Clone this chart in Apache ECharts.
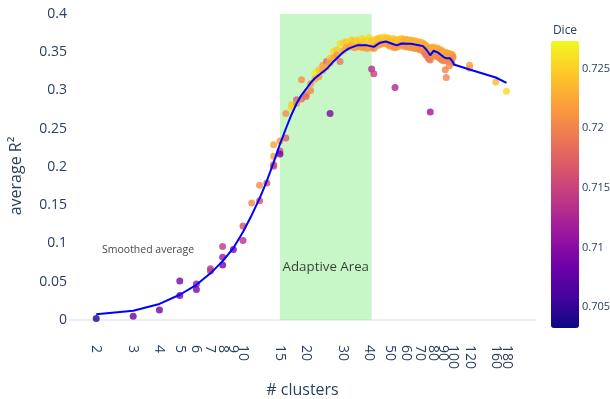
<!DOCTYPE html>
<html>
<head>
<meta charset="utf-8">
<script src="https://cdn.jsdelivr.net/npm/echarts@6/dist/echarts.min.js"></script>
<style>html,body{margin:0;padding:0;background:#fff}#c{width:610px;height:399px}</style>
</head>
<body>
<div id="c"></div>
<script>
// ---- data ----
const clusters = [
 2,3,4,5,5,6,6,7,7,8,8,8,9,10,10,11,12,12,13,14,14,14,14,15,15,15,16,16,17,17,18,18,19,19,20,20,21,21,22,22,
 26,41,42,53,78,
 23,23,24,24,25,25,26,26,27,27,28,28,29,29,30,30,31,31,32,32,33,33,34,34,35,35,36,36,37,37,38,38,39,39,40,40,
 41,41,42,42,43,43,44,44,45,45,46,46,47,47,48,48,49,49,50,50,51,51,52,52,53,53,54,54,55,55,56,56,57,57,58,58,
 59,59,60,60,61,61,62,62,63,63,64,64,65,65,66,66,67,67,68,68,69,69,70,70,71,71,72,72,73,73,74,74,75,75,76,76,
 77,77,78,78,79,79,80,80,81,81,82,82,83,83,84,84,85,85,86,86,87,87,88,88,89,89,90,90,91,91,92,92,93,93,94,94,
 95,95,96,96,97,97,98,98,99,99,100,100,
 120,120,160,180
];
const r2 = [
 0.002,0.005,0.013,0.051,0.032,0.047,0.040,0.067,0.064,0.096,0.082,0.072,0.092,0.123,0.104,0.153,0.176,0.156,0.179,0.229,0.214,0.203,0.201,0.234,0.221,0.217,0.270,0.238,0.281,0.278,0.288,0.283,0.314,0.289,0.295,0.292,0.300,0.309,0.323,0.315,
 0.270,0.328,0.322,0.304,0.272,
 0.327,0.318,0.333,0.326,0.338,0.331,0.342,0.336,0.351,0.343,0.353,0.346,0.361,0.338,0.362,0.352,0.364,0.356,0.363,0.357,0.366,0.359,0.364,0.356,0.366,0.357,0.365,0.358,0.368,0.356,0.364,0.357,0.366,0.355,0.369,0.357,
 0.365,0.356,0.364,0.355,0.367,0.358,0.368,0.359,0.369,0.360,0.367,0.361,0.370,0.362,0.368,0.361,0.369,0.360,0.367,0.358,0.366,0.359,0.368,0.357,0.365,0.356,0.366,0.357,0.367,0.358,0.366,0.359,0.368,0.360,0.367,0.358,
 0.366,0.359,0.367,0.357,0.366,0.358,0.365,0.357,0.366,0.356,0.365,0.357,0.364,0.356,0.365,0.355,0.363,0.356,0.364,0.355,0.362,0.354,0.363,0.353,0.361,0.354,0.362,0.352,0.360,0.350,0.359,0.347,0.358,0.346,0.356,0.343,
 0.354,0.341,0.352,0.340,0.355,0.345,0.357,0.347,0.356,0.346,0.355,0.347,0.356,0.345,0.354,0.344,0.355,0.346,0.353,0.343,0.352,0.342,0.353,0.341,0.351,0.340,0.350,0.339,0.349,0.340,0.350,0.327,0.348,0.317,0.349,0.339,
 0.348,0.338,0.347,0.332,0.348,0.340,0.346,0.339,0.347,0.336,0.345,0.343,
 0.333,0.329,0.311,0.299
];
const dice = [
 0.7035,0.708,0.7085,0.709,0.7085,0.711,0.709,0.7135,0.714,0.714,0.7115,0.709,0.709,0.716,0.7135,0.7205,0.7205,0.716,0.716,0.722,0.7215,0.716,0.7155,0.7215,0.716,0.7085,0.721,0.717,0.7245,0.7255,0.717,0.721,0.721,0.718,0.7205,0.718,0.7205,0.721,0.7265,0.722,
 0.7095,0.713,0.7145,0.7125,0.711,
 0.724,0.7215,0.7215,0.722,0.718,0.7225,0.724,0.7215,0.7255,0.7225,0.7245,0.721,0.726,0.719,0.725,0.7225,0.7245,0.722,0.7255,0.7215,0.7245,0.7225,0.724,0.7215,0.725,0.722,0.7245,0.7215,0.7255,0.7215,0.724,0.722,0.725,0.7215,0.7255,0.7225,
 0.724,0.7215,0.7245,0.7205,0.725,0.722,0.724,0.7215,0.7245,0.7225,0.724,0.7215,0.725,0.722,0.724,0.7215,0.7245,0.722,0.724,0.7215,0.7235,0.721,0.7245,0.7215,0.724,0.721,0.7235,0.7215,0.7245,0.722,0.724,0.7215,0.7245,0.7215,0.7235,0.7215,
 0.723,0.721,0.7235,0.7215,0.723,0.721,0.7235,0.721,0.723,0.7215,0.723,0.721,0.7235,0.721,0.723,0.721,0.723,0.7215,0.7235,0.721,0.723,0.721,0.723,0.721,0.7225,0.7205,0.723,0.721,0.7225,0.7205,0.7225,0.7195,0.723,0.7195,0.7225,0.7195,
 0.7215,0.719,0.7225,0.7195,0.7225,0.7205,0.723,0.7205,0.7225,0.7205,0.7225,0.721,0.723,0.7205,0.7225,0.7205,0.7225,0.721,0.7225,0.7205,0.722,0.7205,0.7225,0.7205,0.722,0.7195,0.7225,0.7205,0.722,0.7205,0.7225,0.72,0.722,0.72,0.7225,0.7205,
 0.722,0.7205,0.722,0.7205,0.7225,0.721,0.722,0.7205,0.722,0.7205,0.722,0.7205,
 0.7215,0.722,0.7235,0.7255
];
const lineX = [2,3,4,5,6,7,8,9,10,11,12,13,14,15,16,17,18,19,20,21,22,25,27,30,32,35,39,42,45,48,51,54,57,63,68,72,75,78,81,85,90,93,97,100,101,120,160,180];
const lineY = [0.0075,0.012,0.021,0.033,0.046,0.061,0.077,0.094,0.115,0.137,0.159,0.182,0.206,0.230,0.250,0.268,0.283,0.294,0.302,0.310,0.316,0.328,0.338,0.350,0.355,0.359,0.359,0.357,0.3625,0.364,0.3615,0.359,0.3615,0.361,0.3595,0.358,0.353,0.346,0.352,0.3495,0.344,0.342,0.342,0.337,0.334,0.3275,0.317,0.310];
const areaRange = [15, 41];
const annotText = ['Smoothed average', 'Adaptive Area'];
const annotX = [3.53, 24.8];
const annotY = [0.0915, 0.069];
const annotSize = [10.5, 13.3];
const xTicks = [2,3,4,5,6,7,8,9,10,15,20,30,40,50,60,70,80,90,100,120,180];
const xTicksExtra = [160];
const yTicks = [0,0.05,0.1,0.15,0.2,0.25,0.3,0.35,0.4];
const diceTicks = [0.705,0.71,0.715,0.72,0.725];
const diceRange = [0.70325, 0.7273];
const plasma = ['#0d0887','#46039f','#7201a8','#9c179e','#bd3786','#d8576b','#ed7953','#fb9f3a','#fdca26','#f0f921'];

const FONT = 'Open Sans';
const TXT = '#2a3f5f';
const xLabelStyle = {rotate: -90, fontSize: 14, color: TXT, margin: 25, fontFamily: FONT,
                     hideOverlap: false, showMaxLabel: true, showMinLabel: true};
const chart = echarts.init(document.getElementById('c'), null, {renderer: 'canvas'});
chart.setOption({
  backgroundColor: '#fff',
  animation: false,
  textStyle: {fontFamily: FONT},
  grid: [
    {left: 70, right: 75, top: 14, bottom: 79, containLabel: false, outerBoundsMode: 'none'},
    {left: 551, width: 28, top: 41, height: 287, containLabel: false, outerBoundsMode: 'none'}
  ],
  xAxis: [{
    type: 'log', gridIndex: 0, min: 1.5, max: 246, logBase: 10,
    name: '# clusters', nameLocation: 'middle', nameGap: 62,
    nameTextStyle: {fontSize: 16, color: TXT, fontFamily: FONT},
    axisLine: {show: true, onZero: false, lineStyle: {color: '#EBF0F8', width: 2}},
    axisTick: {show: false},
    splitLine: {show: false},
    axisLabel: Object.assign({customValues: xTicks}, xLabelStyle)
  }, {
    type: 'value', gridIndex: 1, min: 0, max: 1, position: 'top',
    name: 'Dice', nameLocation: 'middle', nameGap: 4,
    nameTextStyle: {fontSize: 12, color: TXT, fontFamily: FONT},
    axisLine: {show: false}, axisTick: {show: false}, axisLabel: {show: false}, splitLine: {show: false}
  }, {
    type: 'log', gridIndex: 0, min: 1.5, max: 246, logBase: 10, position: 'bottom',
    axisLine: {show: false, onZero: false}, axisTick: {show: false}, splitLine: {show: false},
    axisLabel: Object.assign({customValues: xTicksExtra}, xLabelStyle)
  }],
  yAxis: [{
    type: 'value', gridIndex: 0, min: 0, max: 0.4,
    name: 'average R²', nameLocation: 'middle', nameGap: 46,
    nameTextStyle: {fontSize: 16, color: TXT, fontFamily: FONT, padding: [0, 18, 0, 0]},
    axisLine: {show: false}, axisTick: {show: false}, splitLine: {show: false},
    axisLabel: {customValues: yTicks, fontSize: 14, color: TXT, margin: 3, fontFamily: FONT}
  }, {
    type: 'value', gridIndex: 1, min: diceRange[0], max: diceRange[1], position: 'right',
    axisLine: {show: false}, axisTick: {show: false}, splitLine: {show: false},
    axisLabel: {customValues: diceTicks, fontSize: 11, color: TXT, margin: 3, fontFamily: FONT}
  }],
  visualMap: {
    type: 'continuous', seriesIndex: 1, dimension: 2,
    min: diceRange[0], max: diceRange[1],
    inRange: {color: plasma},
    left: 551, top: 41, itemWidth: 28, itemHeight: 287, padding: 0,
    calculable: false, hoverLink: false, text: null, showLabel: false
  },
  series: [
    {
      type: 'line', xAxisIndex: 0, yAxisIndex: 0, data: [], z: 1, silent: true,
      markArea: {
        silent: true,
        itemStyle: {color: 'rgba(144,238,144,0.5)'},
        data: [[{xAxis: areaRange[0], yAxis: 0}, {xAxis: areaRange[1], yAxis: 0.4}]]
      }
    },
    {
      type: 'scatter', xAxisIndex: 0, yAxisIndex: 0, z: 3,
      symbolSize: 7,
      data: clusters.map((c, i) => [c, r2[i], dice[i]])
    },
    {
      type: 'line', xAxisIndex: 0, yAxisIndex: 0, z: 4,
      symbol: 'none', smooth: false,
      lineStyle: {color: '#0000ff', width: 2},
      itemStyle: {color: '#0000ff'},
      data: lineX.map((x, i) => [x, lineY[i]])
    },
    {
      type: 'scatter', xAxisIndex: 0, yAxisIndex: 0, z: 5, symbolSize: 0, silent: true,
      data: annotX.map((x, i) => ({
        value: [x, annotY[i]],
        label: {show: true, position: 'inside', formatter: annotText[i], fontSize: annotSize[i], color: '#111', fontFamily: FONT}
      }))
    }
  ]
});
</script>
</body>
</html>
